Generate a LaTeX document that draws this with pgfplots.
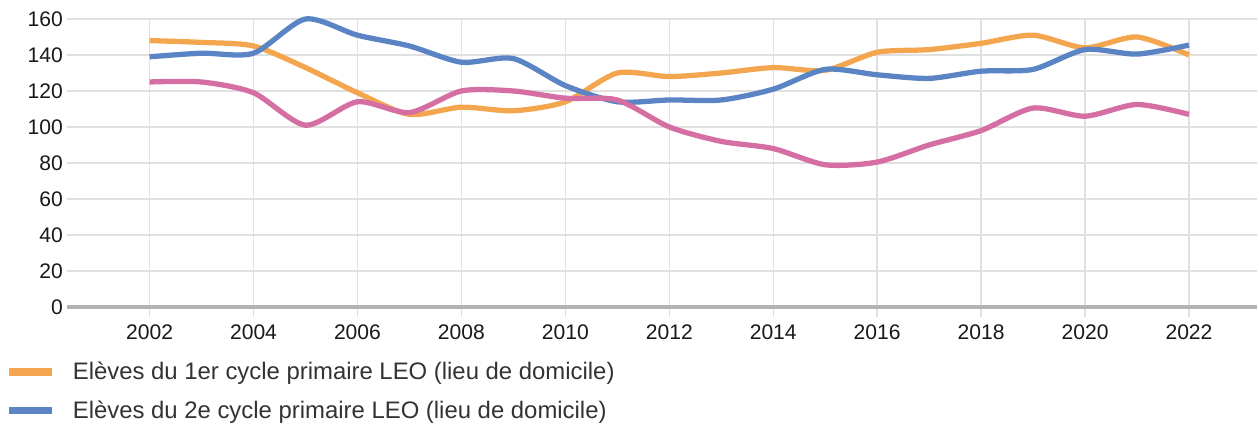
\documentclass[border=0pt]{standalone}
\usepackage{fontspec}
\setmainfont{Liberation Sans}
\usepackage{pgfplots}
\pgfplotsset{compat=1.18}
\definecolor{orangeL}{HTML}{F4A64F}
\definecolor{blueL}{HTML}{5B84C5}
\definecolor{pinkL}{HTML}{D56FA3}
\definecolor{gridc}{HTML}{E0E0E0}
\definecolor{axisc}{HTML}{B3B3B3}
\definecolor{txt}{HTML}{333333}

\begin{document}
\begin{tikzpicture}
\begin{axis}[
  scale only axis,width=23.8cm,height=5.76cm,
  xmin=2000.42,xmax=2023.31,ymin=0,ymax=160,
  axis x line*=bottom,axis y line*=left,
  x axis line style={axisc,line width=2.2pt,-},
  y axis line style={draw=none},
  xtick={2002,2004,...,2022},ytick={0,20,...,160},
  ymajorgrids,xmajorgrids,grid style={gridc,line width=0.8pt},
  major x tick style={gridc,line width=0.8pt},
  major y tick style={draw=none},
  tick align=outside,major tick length=0.2cm,
  xticklabel style={/pgf/number format/1000 sep={},yshift=-0.04cm},
  yticklabel style={xshift=0.23cm},
  /pgf/number format/assume math mode=true,
  tick label style={font=\fontsize{12}{14}\selectfont,text=black!90},
  clip=false,
  legend style={at={(rel axis cs:-0.057,-0.165)},anchor=north west,draw=none,
    font=\fontsize{13.6}{16}\selectfont,text=txt,row sep=0.23cm,
    /tikz/every odd column/.append style={column sep=0.27cm}},
  legend cell align=left,
  legend image code/.code={\draw[#1,line width=4.3pt] (0cm,0cm) -- (0.86cm,0cm);},
]
\addplot[orangeL,line width=3pt,smooth,tension=0.45] coordinates {
(2002,148) (2003,147) (2004,145) (2005,133) (2006,119) (2007,107) (2008,111)
(2009,109) (2010,114) (2011,130) (2012,128) (2013,130) (2014,133) (2015,131.5)
(2016,141.5) (2017,143) (2018,146.5) (2019,151) (2020,144) (2021,150) (2022,140)};
\addlegendentry{Elèves du 1er cycle primaire LEO (lieu de domicile)}
\addplot[blueL,line width=3pt,smooth,tension=0.45] coordinates {
(2002,139) (2003,141) (2004,141) (2005,160) (2006,151) (2007,145) (2008,136)
(2009,138) (2010,123) (2011,114) (2012,115) (2013,115) (2014,121) (2015,132)
(2016,129) (2017,127) (2018,131) (2019,132) (2020,143) (2021,140.5) (2022,145.5)};
\addlegendentry{Elèves du 2e cycle primaire LEO (lieu de domicile)}
\addplot[pinkL,line width=3pt,smooth,tension=0.45,forget plot] coordinates {
(2002,125) (2003,125) (2004,119) (2005,101) (2006,114) (2007,108) (2008,120)
(2009,120) (2010,116) (2011,115) (2012,100) (2013,92) (2014,88) (2015,79)
(2016,80.5) (2017,90) (2018,98) (2019,110.5) (2020,106) (2021,112.5) (2022,107)};
% page margins as in the reference
\path (rel axis cs:0.5,1.066) (rel axis cs:0.5,-0.424);
\end{axis}
\end{tikzpicture}
\end{document}
